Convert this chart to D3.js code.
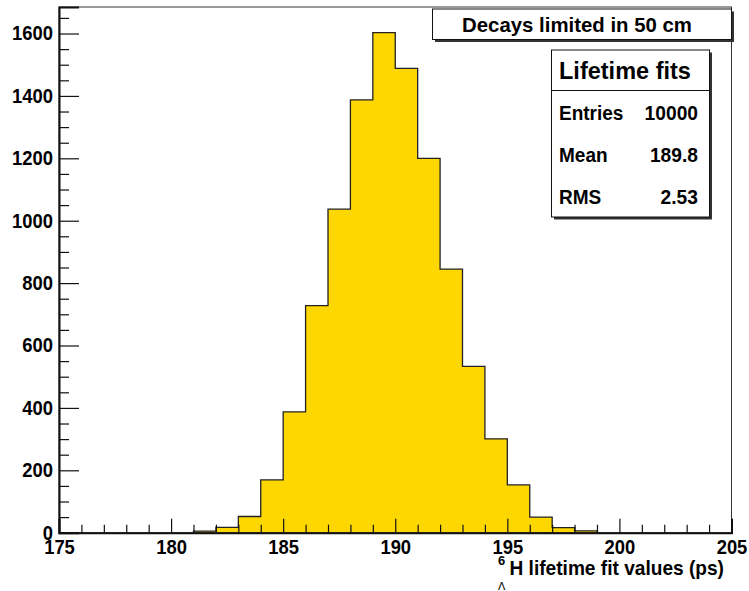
<!DOCTYPE html>
<html>
<head>
<meta charset="utf-8">
<script src="https://cdn.jsdelivr.net/npm/d3@7"></script>
<style>
  body { margin: 0; background: #fff; }
  svg { display: block; font-family: "Liberation Sans", Arial, Helvetica, sans-serif; font-weight: bold; }
</style>
</head>
<body>
<div id="chart"></div>
<script>
// chart constants
const WIDTH = 749;
const HEIGHT = 591;
const FRAME = { left: 59, top: 7, right: 731.5, bottom: 532.7 };

// histogram data (lower bin edge, entries), bin width 1 ps
const binLow = [181, 182, 183, 184, 185, 186, 187, 188, 189, 190, 191, 192, 193, 194, 195, 196, 197, 198];
const counts = [5, 17, 52, 169, 387, 728, 1037, 1387, 1603, 1488, 1200, 845, 533, 301, 153, 50, 16, 6];
const binWidth = 1;

// axis ranges and ticks
const xDomain = [175, 205];
const yDomain = [0, 1685];
const xMajor = [175, 180, 185, 190, 195, 200, 205];
const xMinor = [176, 177, 178, 179, 181, 182, 183, 184, 186, 187, 188, 189, 191, 192, 193, 194, 196, 197, 198, 199, 201, 202, 203, 204];
const yMajor = [0, 200, 400, 600, 800, 1000, 1200, 1400, 1600];
const yMinor = [50, 100, 150, 250, 300, 350, 450, 500, 550, 650, 700, 750, 850, 900, 950, 1050, 1100, 1150, 1250, 1300, 1350, 1450, 1500, 1550, 1650];

// stats box
const titleText = "Decays limited in 50 cm";
const statsTitle = "Lifetime fits";
const statsLabels = ["Entries", "Mean", "RMS"];
const statsValues = ["10000", "189.8", "2.53"];

const svg = d3.select("#chart")
  .append("svg")
  .attr("width", WIDTH)
  .attr("height", HEIGHT);

let x = d3.scaleLinear().domain(xDomain).range([FRAME.left, FRAME.right]);
let y = d3.scaleLinear().domain(yDomain).range([FRAME.bottom, FRAME.top]);

// squeeze text horizontally (ROOT's helvetica is taller than it is wide)
function squeeze(sel, k) {
  sel.each(function () {
    let w = this.getComputedTextLength();
    d3.select(this).attr("textLength", w * k).attr("lengthAdjust", "spacingAndGlyphs");
  });
}

// histogram
let bins = binLow.map((b, i) => ({ x: b, y: counts[i] }));
let lastEdge = binLow[binLow.length - 1] + binWidth;
let areaData = bins.concat([{ x: lastEdge, y: 0 }]);
let lineData = [{ x: binLow[0], y: 0 }].concat(areaData);

svg.append("path")
  .datum(areaData)
  .attr("fill", "#ffd700")
  .attr("d", d3.area()
    .curve(d3.curveStepAfter)
    .x(d => x(d.x))
    .y0(y(0))
    .y1(d => y(d.y)));

svg.append("path")
  .datum(lineData)
  .attr("fill", "none")
  .attr("stroke", "#222")
  .attr("stroke-width", 1.3)
  .attr("d", d3.line()
    .curve(d3.curveStepAfter)
    .x(d => x(d.x))
    .y(d => y(d.y)));

// frame
svg.append("rect")
  .attr("x", FRAME.left)
  .attr("y", FRAME.top)
  .attr("width", FRAME.right - FRAME.left)
  .attr("height", FRAME.bottom - FRAME.top)
  .attr("fill", "none")
  .attr("stroke", "#333")
  .attr("stroke-width", 1);

// x axis
let gX = svg.append("g").attr("transform", "translate(0," + FRAME.bottom + ")");
gX.call(d3.axisBottom(x).tickValues(xMajor).tickSize(-14).tickPadding(7).tickFormat(d3.format("d")));
svg.append("g").attr("transform", "translate(0," + FRAME.bottom + ")")
  .call(d3.axisBottom(x).tickValues(xMinor).tickSize(-8).tickFormat(""))
  .select(".domain").remove();

// y axis
let gY = svg.append("g").attr("transform", "translate(" + FRAME.left + ",0)");
gY.call(d3.axisLeft(y).tickValues(yMajor).tickSize(-20).tickPadding(6).tickFormat(d3.format("d")));
svg.append("g").attr("transform", "translate(" + FRAME.left + ",0)")
  .call(d3.axisLeft(y).tickValues(yMinor).tickSize(-10).tickFormat(""))
  .select(".domain").remove();

svg.selectAll(".domain").attr("stroke", "#111").attr("stroke-width", 2);
svg.selectAll(".tick line").attr("stroke", "#111").attr("stroke-width", 1.2);
svg.selectAll(".tick text")
  .attr("fill", "#000")
  .style("font-family", "'Liberation Sans', Arial, sans-serif")
  .style("font-weight", "bold")
  .style("font-size", "20px")
  .call(squeeze, 0.92);

// axis title with Lambda sub- and superscript
svg.append("text")
  .attr("x", 724)
  .attr("y", 575)
  .attr("text-anchor", "end")
  .style("font-size", "21px")
  .text("H lifetime fit values (ps)")
  .call(squeeze, 0.91);
svg.append("text").attr("x", 498).attr("y", 565).style("font-size", "13px").text("6");
svg.append("text").attr("x", 498).attr("y", 590).style("font-size", "11px").style("font-weight", "normal").text("\u039b");

// boxes with drop shadow
function shadowBox(x0, y0, w, h) {
  svg.append("rect").attr("x", x0 + 2.5).attr("y", y0 + 2.5).attr("width", w).attr("height", h).attr("fill", "#333");
  svg.append("rect").attr("x", x0).attr("y", y0).attr("width", w).attr("height", h)
    .attr("fill", "#fff").attr("stroke", "#111").attr("stroke-width", 1);
}

// title box
shadowBox(432.5, 9, 299, 30.5);
svg.append("text")
  .attr("x", 577)
  .attr("y", 32)
  .attr("text-anchor", "middle")
  .style("font-size", "21px")
  .text(titleText)
  .call(squeeze, 0.97);

// stats box
shadowBox(551.5, 50, 158, 167);
svg.append("line").attr("x1", 551.5).attr("x2", 709.5).attr("y1", 90.5).attr("y2", 90.5).attr("stroke", "#111");
svg.append("text").attr("x", 559).attr("y", 78.5).style("font-size", "23.5px").text(statsTitle);

let rowY = [119.5, 161.5, 203.5];
statsLabels.forEach((lab, i) => {
  svg.append("text").attr("x", 559).attr("y", rowY[i]).style("font-size", "20px").text(lab).call(squeeze, 0.95);
  svg.append("text").attr("x", 698).attr("y", rowY[i]).attr("text-anchor", "end").style("font-size", "20px").text(statsValues[i]).call(squeeze, 0.96);
});
</script>
</body>
</html>
